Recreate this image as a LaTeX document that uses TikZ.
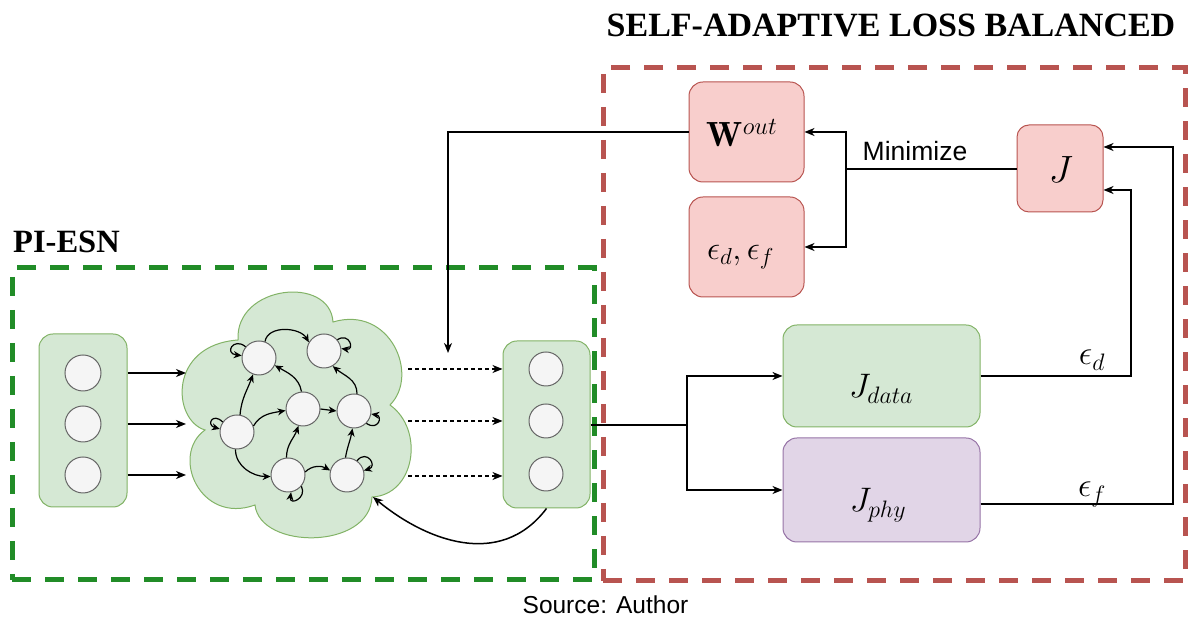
\RequirePackage{fix-cm}
\documentclass[tikz,border=0pt]{standalone}
\usepackage{fontspec}
\newfontfamily\sansf{Liberation Sans}
\newfontfamily\seriff{Liberation Serif}
\usetikzlibrary{arrows.meta}
\definecolor{gfill}{HTML}{D5E8D4}
\definecolor{gline}{HTML}{82B366}
\definecolor{rfill}{HTML}{F8CECC}
\definecolor{rline}{HTML}{B85450}
\definecolor{pfill}{HTML}{E1D5E7}
\definecolor{pline}{HTML}{9673A6}
\definecolor{nfill}{HTML}{F5F5F5}
\definecolor{nline}{HTML}{666666}
\definecolor{gdash}{RGB}{33,140,39}
\definecolor{rdash}{RGB}{184,84,80}
\begin{document}
\begin{tikzpicture}[x=1pt,y=1pt,
  box/.style={draw, rounded corners=14pt, line width=1pt, inner sep=0pt},
  neuron/.style={circle, draw=nline, fill=nfill, line width=1pt, minimum size=34pt, inner sep=0pt},
  arr/.style={line width=1.5pt, -{Stealth[length=10pt,width=8pt,inset=3pt]}},
  rarr/.style={line width=1.2pt, -{Stealth[length=8pt,width=7pt,inset=2.5pt]}},
  frame/.style={line width=5pt, dash pattern=on 19pt off 14pt, inner sep=0pt},
  mathlbl/.style={inner sep=0pt, anchor=base},
]
\useasboundingbox (0,0) rectangle (1193,617);

% frames
\node[frame, draw=gdash, minimum width=582, minimum height=312] (gframe) at (303,193) {};
\node[frame, draw=rdash, minimum width=582, minimum height=513] (rframe) at (894,292.5) {};

% titles
\node[anchor=base, inner sep=0pt] (title) at (891,580) {\seriff\bfseries\fontsize{34}{40}\selectfont SELF-ADAPTIVE LOSS BALANCED};
\node[anchor=base west, inner sep=0pt] (piesn) at (13,364) {\seriff\bfseries\fontsize{32.5}{38}\selectfont PI-ESN};
\node[anchor=base, inner sep=0pt] (src) at (605.5,3) {\sansf\fontsize{24.5}{28}\selectfont Source: Author};

% cloud (reservoir)
\draw[draw=gline, fill=gfill, line width=1pt]
  (205,187) .. controls (172,197) and (168,272) .. (238,277)
  .. controls (235,332) and (330,342) .. (333,295)
  .. controls (390,312) and (420,242) .. (390,212)
  .. controls (425,187) and (415,122) .. (372,120)
  .. controls (370,67) and (260,67) .. (255,112)
  .. controls (200,92) and (170,162) .. (205,187) -- cycle;
\coordinate (cin1) at (186,244);
\coordinate (cin2) at (186,193);
\coordinate (cin3) at (186,142);
\coordinate (cout1) at (408,248);
\coordinate (cout2) at (408,196);
\coordinate (cout3) at (408,141);
\coordinate (cfb) at (373,120);

% input column
\node[box, draw=gline, fill=gfill, minimum width=88, minimum height=173] (incol) at (83,196.5) {};
\node[neuron, minimum size=36pt] (i1) at (83,244) {};
\node[neuron, minimum size=36pt] (i2) at (83,193) {};
\node[neuron, minimum size=36pt] (i3) at (83,142) {};
\draw[arr] (incol.east |- i1) -- (cin1);
\draw[arr] (incol.east |- i2) -- (cin2);
\draw[arr] (incol.east |- i3) -- (cin3);

% output column
\node[box, draw=gline, fill=gfill, minimum width=87, minimum height=167] (outcol) at (546.5,192.5) {};
\node[neuron] (o1) at (546,248) {};
\node[neuron] (o2) at (546,196) {};
\node[neuron] (o3) at (546,143) {};
\draw[arr, line width=1.2pt, dash pattern=on 4pt off 3pt] (cout1) -- (outcol.west |- cout1);
\draw[arr, line width=1.2pt, dash pattern=on 4pt off 3pt] (cout2) -- (outcol.west |- cout2);
\draw[arr, line width=1.2pt, dash pattern=on 4pt off 3pt] (cout3) -- (outcol.west |- cout3);
\draw[arr] (outcol.south) .. controls (500,47) and (425,77) .. (cfb);

% reservoir neurons
\node[neuron] (A) at (259,259) {};
\node[neuron] (B) at (324,266) {};
\node[neuron] (C) at (237,185) {};
\node[neuron] (D) at (303,208) {};
\node[neuron] (E) at (354,206) {};
\node[neuron] (F) at (288,142) {};
\node[neuron] (G) at (347,142) {};

% reservoir connections
\draw[rarr] (A.70) to[out=80,in=120] (B.150);
\draw[rarr] (A.140) .. controls +(-12,10) and +(-18,2) .. (A.172);
\draw[rarr] (B.40) .. controls +(12,8) and +(14,-2) .. (B.8);
\draw[rarr] (D.95) to[out=100,in=-30] (A.-25);
\draw[rarr] (E.80) to[out=90,in=-40] (B.-60);
\draw[rarr] (C.80) to[out=85,in=-110] (A.-110);
\draw[rarr] (C.145) .. controls +(-10,10) and +(-14,4) .. (C.170);
\draw[rarr] (C.20) to[out=60,in=190] (D.185);
\draw[rarr] (D.east) -- (E.west);
\draw[rarr] (E.-45) .. controls +(12,-8) and +(12,-2) .. (E.-10);
\draw[rarr] (C.-95) to[out=-90,in=180] (F.185);
\draw[rarr] (F.95) to[out=90,in=-110] (D.-105);
\draw[rarr] (F.-40) .. controls +(6,-12) and +(-2,-14) .. (F.-80);
\draw[rarr] (F.10) to[out=45,in=150] (G.165);
\draw[rarr] (G.95) to[out=80,in=-100] (E.-95);
\draw[rarr] (G.55) .. controls +(10,12) and +(14,4) .. (G.15);

% loss boxes
\node[box, draw=rline, fill=rfill, minimum width=115, minimum height=100] (wout) at (746.5,485) {};
\node[box, draw=rline, fill=rfill, minimum width=115, minimum height=100] (epsb) at (746.5,370) {};
\node[box, draw=rline, fill=rfill, minimum width=86, minimum height=87, rounded corners=12pt] (J) at (1060,448.5) {};
\node[box, draw=gline, fill=gfill, minimum width=197, minimum height=102] (jdata) at (881.5,241) {};
\node[box, draw=pline, fill=pfill, minimum width=197, minimum height=104] (jphy) at (881.5,127) {};

\node[mathlbl] (wtxt) at (742,470) {\fontsize{35}{40}\selectfont$\mathbf{W}^{out}$};
\node[mathlbl] (etxt) at (740.5,357) {\fontsize{33}{38}\selectfont$\epsilon_d,\epsilon_f$};
\node[mathlbl] (jtxt) at (1061,434) {\fontsize{38}{42}\selectfont$J$};
\node[mathlbl] (jdtxt) at (881,219) {\fontsize{34}{40}\selectfont$J_{data}$};
\node[mathlbl] (jptxt) at (878,105) {\fontsize{34}{40}\selectfont$J_{phy}$};

% connectors
\coordinate (wdown) at (448,264);
\draw[arr] (wout.west) -| (wdown);
\coordinate (br) at (687,192);
\draw[arr] (outcol.east |- br) -- (br) |- (jdata.west);
\draw[arr] (br) |- (jphy.west);
\coordinate (xd) at (1131,0);
\coordinate (xf) at (1173,0);
\draw[arr] (jdata.east) -- (jdata.east -| xd) |- ([yshift=-21.5pt]J.east);
\draw[arr] ([yshift=-14pt]jphy.east) -- ([yshift=-14pt]jphy.east -| xf) |- ([yshift=21.5pt]J.east);
\node[mathlbl] (epsdl) at (1092,252) {\fontsize{34}{40}\selectfont$\epsilon_d$};
\node[mathlbl] (epsfl) at (1092,120) {\fontsize{34}{40}\selectfont$\epsilon_f$};
\coordinate (mm) at (846,448);
\draw[arr] (J.west |- mm) -- (mm) |- (wout.east);
\draw[arr] (mm) |- (epsb.east);
\node[anchor=base, inner sep=0pt] (minl) at (915,456) {\sansf\fontsize{26.5}{30}\selectfont Minimize};
\end{tikzpicture}
\end{document}
